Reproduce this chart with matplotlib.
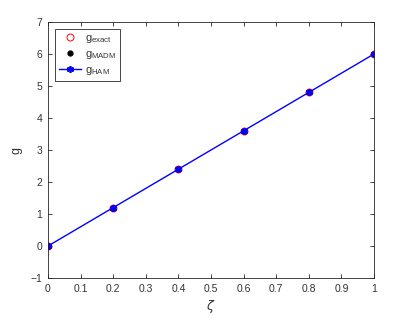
import matplotlib
matplotlib.use("Agg")
import matplotlib.pyplot as plt

# data
zeta = [0, 0.2, 0.4, 0.6, 0.8, 1.0]
g_exact = [0, 1.2, 2.4, 3.6, 4.8, 6.0]
g_madm = [0, 1.2, 2.4, 3.6, 4.8, 6.0]
g_ham = [0, 1.2, 2.4, 3.6, 4.8, 6.0]

plt.rcParams['font.family'] = ['Liberation Sans', 'DejaVu Sans']
plt.rcParams['mathtext.fontset'] = 'custom'
plt.rcParams['mathtext.rm'] = 'Liberation Sans'
fig = plt.figure(figsize=(4.1, 3.18), dpi=100)
ax = fig.add_axes([48/410, 1 - 278/318, (374-48)/410, (278-22)/318])

txt = '#333333'
ax.plot(zeta, g_exact, 'o', mfc='none', mec='red', ms=5, mew=0.7,
        label=r'$\mathregular{g_{exact}}$')
ax.plot(zeta, g_madm, 'o', color='black', ms=3.5,
        label=r'$\mathregular{g_{MADM}}$')
ax.plot(zeta, g_ham, '-', color='blue', lw=1, marker=(6, 2, 0), ms=5,
        mew=1.2, label=r'$\mathregular{g_{HAM}}$')

ax.set_xlim(0, 1)
ax.set_ylim(-1, 7)
ax.set_xticks([0, 0.1, 0.2, 0.3, 0.4, 0.5, 0.6, 0.7, 0.8, 0.9, 1])
ax.set_xticklabels(['0', '0.1', '0.2', '0.3', '0.4', '0.5', '0.6', '0.7', '0.8', '0.9', '1'])
ax.set_yticks(range(-1, 8))
ax.tick_params(direction='in', top=True, right=True, labelsize=7.5,
               length=3, width=0.6, pad=4, colors='#262626', labelcolor=txt)
for s in ax.spines.values():
    s.set_linewidth(0.6)
    s.set_color('#262626')
ax.set_xlabel(r'$\zeta$', fontsize=9, labelpad=3, color=txt)
ax.set_ylabel('g', fontsize=9, labelpad=6, color=txt)

leg = ax.legend(loc='upper left', fontsize=8, fancybox=False,
                edgecolor='#262626', framealpha=1, handlelength=2.0,
                handletextpad=0.3, borderpad=0.35, labelspacing=0.35,
                borderaxespad=0.0, bbox_to_anchor=(0.022, 0.972))
leg.get_frame().set_linewidth(0.6)
for t in leg.get_texts():
    t.set_color(txt)

fig.savefig('out.png', dpi=100)
